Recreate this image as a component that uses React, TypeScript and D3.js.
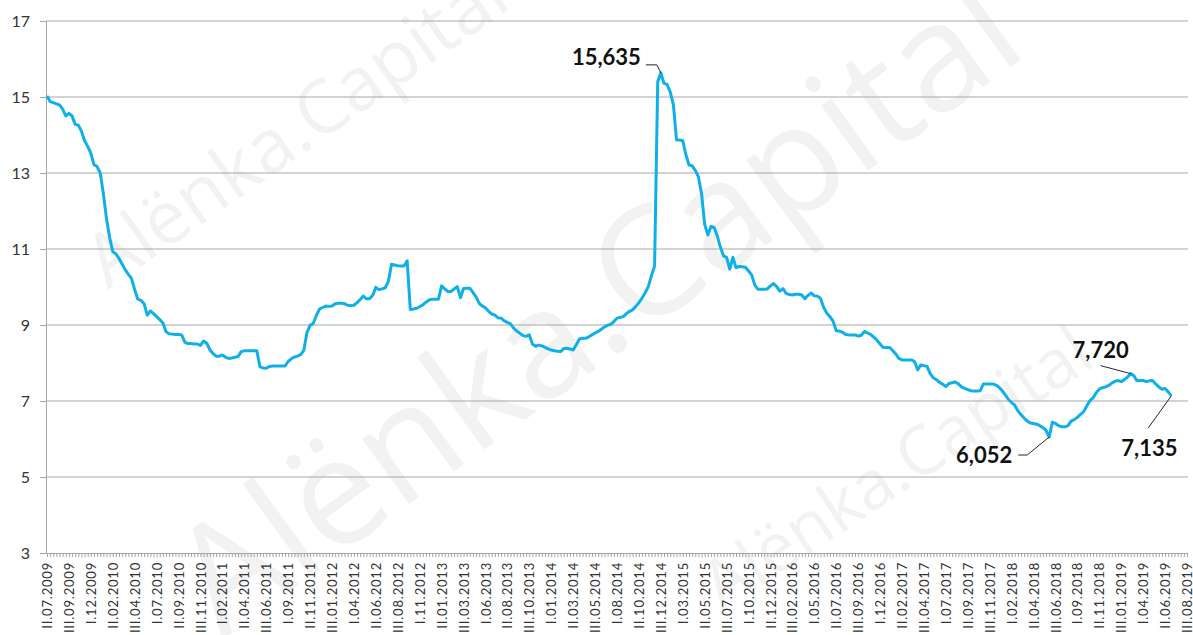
import * as d3 from "d3";
import { useRef, useEffect } from "react";

// ten-day periods (decades) from II.07.2009 to III.08.2019
const decadeNames = ["I", "II", "III"];
const firstPeriod = { year: 2009, month: 7, decade: 2 };
const lastPeriod = { year: 2019, month: 8, decade: 3 };

function buildCategories() {
  const out: string[] = [];
  let { year, month, decade } = firstPeriod;
  while (true) {
    out.push(`${decadeNames[decade - 1]}.${String(month).padStart(2, "0")}.${year}`);
    if (year === lastPeriod.year && month === lastPeriod.month && decade === lastPeriod.decade) break;
    decade++;
    if (decade > 3) {
      decade = 1;
      month++;
      if (month > 12) {
        month = 1;
        year++;
      }
    }
  }
  return out;
}
const categories = buildCategories();

// values, one per decade
const values2009 = [15.03, 14.88, 14.85, 14.82, 14.79, 14.68, 14.5, 14.57, 14.5, 14.28, 14.26, 14.1, 13.85, 13.7, 13.52, 13.22, 13.17];
const values2010 = [13.0, 12.45, 11.8, 11.3, 10.93, 10.87, 10.75, 10.6, 10.45, 10.33, 10.22, 9.93, 9.68, 9.65, 9.56, 9.26, 9.37, 9.3, 9.22, 9.14, 9.06, 8.82, 8.77, 8.76, 8.75, 8.75, 8.74, 8.55, 8.51, 8.51, 8.5, 8.5, 8.46, 8.58, 8.52, 8.35];
const values2011 = [8.25, 8.18, 8.18, 8.21, 8.15, 8.12, 8.13, 8.15, 8.17, 8.3, 8.32, 8.32, 8.32, 8.32, 8.32, 7.9, 7.87, 7.86, 7.91, 7.92, 7.92, 7.92, 7.92, 7.92, 8.04, 8.11, 8.16, 8.18, 8.22, 8.33, 8.8, 8.99, 9.04, 9.25, 9.42, 9.46];
const values2012 = [9.5, 9.49, 9.5, 9.56, 9.57, 9.57, 9.56, 9.52, 9.51, 9.52, 9.59, 9.67, 9.76, 9.69, 9.69, 9.78, 9.99, 9.93, 9.95, 9.98, 10.15, 10.6, 10.58, 10.56, 10.55, 10.55, 10.69, 9.41, 9.42, 9.44, 9.48, 9.53, 9.6, 9.66, 9.68, 9.68];
const values2013 = [9.68, 10.03, 9.95, 9.88, 9.88, 9.95, 10.01, 9.72, 9.96, 9.97, 9.97, 9.86, 9.74, 9.57, 9.5, 9.45, 9.36, 9.29, 9.26, 9.19, 9.18, 9.11, 9.07, 9.03, 8.92, 8.84, 8.78, 8.72, 8.7, 8.74, 8.5, 8.44, 8.47, 8.45, 8.41, 8.37];
const values2014 = [8.34, 8.32, 8.31, 8.3, 8.38, 8.39, 8.37, 8.34, 8.48, 8.63, 8.65, 8.65, 8.69, 8.74, 8.79, 8.83, 8.89, 8.95, 8.99, 9.02, 9.09, 9.18, 9.2, 9.22, 9.3, 9.36, 9.4, 9.49, 9.59, 9.71, 9.85, 10.01, 10.3, 10.55, 15.4, 15.635];
const values2015 = [15.36, 15.33, 15.13, 14.8, 13.87, 13.87, 13.85, 13.48, 13.21, 13.19, 13.07, 12.9, 12.45, 11.65, 11.37, 11.59, 11.57, 11.35, 11.05, 10.82, 10.78, 10.47, 10.78, 10.51, 10.54, 10.53, 10.52, 10.42, 10.32, 10.05, 9.94, 9.94, 9.94, 9.95, 10.03, 10.09];
const values2016 = [10.01, 9.89, 9.96, 9.83, 9.8, 9.79, 9.81, 9.81, 9.79, 9.69, 9.78, 9.84, 9.77, 9.76, 9.7, 9.46, 9.31, 9.22, 9.1, 8.85, 8.84, 8.81, 8.75, 8.74, 8.74, 8.74, 8.71, 8.73, 8.83, 8.79, 8.75, 8.68, 8.6, 8.5, 8.41, 8.41];
const values2017 = [8.41, 8.33, 8.24, 8.12, 8.08, 8.08, 8.08, 8.08, 8.04, 7.82, 7.95, 7.93, 7.91, 7.72, 7.61, 7.56, 7.49, 7.44, 7.38, 7.46, 7.48, 7.5, 7.45, 7.37, 7.33, 7.3, 7.27, 7.26, 7.26, 7.27, 7.45, 7.45, 7.45, 7.45, 7.42, 7.36];
const values2018 = [7.27, 7.16, 7.04, 6.96, 6.89, 6.74, 6.64, 6.55, 6.47, 6.42, 6.41, 6.39, 6.35, 6.3, 6.23, 6.052, 6.44, 6.41, 6.35, 6.32, 6.32, 6.35, 6.47, 6.51, 6.57, 6.65, 6.72, 6.87, 7.01, 7.08, 7.22, 7.31, 7.35, 7.37, 7.41, 7.47];
const values2019 = [7.52, 7.54, 7.51, 7.56, 7.63, 7.72, 7.67, 7.53, 7.54, 7.54, 7.51, 7.53, 7.54, 7.45, 7.37, 7.31, 7.33, 7.24, 7.135];

const values = [
  ...values2009, ...values2010, ...values2011, ...values2012, ...values2013, ...values2014,
  ...values2015, ...values2016, ...values2017, ...values2018, ...values2019,
];

const yTicks = [3, 5, 7, 9, 11, 13, 15, 17];
const labelEvery = 7;

// callouts: point index -> text
const callouts = [
  { index: 196, dx: -20, dy: -8, anchor: "end", leader: [[-4, -8], [-15, -8]] },
  { index: 346, dx: -30, dy: -16, anchor: "middle", leader: [[-30, -8]] },
  { index: 320, dx: -37, dy: 26, anchor: "end", leader: [[-22, 18], [-31, 18]] },
  { index: 359, dx: -22, dy: 60, anchor: "middle", leader: [[-23, 32]] },
];

const fmt = (v: number) => d3.format(".3f")(v).replace(".", ",");

export default function App() {
  const xAxisRef = useRef<SVGGElement>(null);
  const yAxisRef = useRef<SVGGElement>(null);

  const width = 1193;
  const height = 635;
  const left = 47;
  const right = 1187;
  const top = 21;
  const bottom = 553;

  const x = d3.scalePoint<string>().domain(categories).range([left, right]);
  const y = d3.scaleLinear().domain([3, 17]).range([bottom, top]);

  const line = d3
    .line<number>()
    .x((_, i) => x(categories[i])!)
    .y((d) => y(d));

  useEffect(() => {
    const gx = d3.select(xAxisRef.current!);
    gx.call(
      d3
        .axisBottom(x)
        .tickSize(4)
        .tickSizeOuter(0)
        .tickFormat((d, i) => (i % labelEvery === 0 ? (d as string) : ""))
    );
    gx.select(".domain").attr("stroke", "#a6a6a6");
    gx.selectAll(".tick line").attr("stroke", "#a6a6a6");
    gx.selectAll(".tick text")
      .attr("transform", "rotate(-90)")
      .attr("text-anchor", "end")
      .attr("x", -9)
      .attr("y", 0)
      .attr("dy", "0.35em")
      .attr("fill", "#333")
      .style("font-family", "Lato, 'Open Sans', sans-serif")
      .style("font-size", "13px")
      .style("letter-spacing", "0.8px");

    const gy = d3.select(yAxisRef.current!);
    gy.call(d3.axisLeft(y).tickValues(yTicks).tickSize(6).tickPadding(10).tickFormat(d3.format("d")));
    gy.select(".domain").attr("stroke", "#a6a6a6");
    gy.selectAll(".tick line").attr("stroke", "#a6a6a6");
    gy.selectAll(".tick text")
      .attr("fill", "#333")
      .style("font-family", "Lato, 'Open Sans', sans-serif")
      .style("font-size", "16px");
  }, []);

  const wm = { fill: "#f2f2f2", fontFamily: "'Open Sans', sans-serif" };

  return (
    <svg width={width} height={height} style={{ position: "absolute", left: 0, top: 0, background: "#fff" }}>
      {/* watermarks */}
      <g style={wm}>
        <text transform="translate(108,290) rotate(-35)" fontSize={74} textLength={495} lengthAdjust="spacingAndGlyphs">
          Alënka.Capital
        </text>
        <text transform="translate(222,640) rotate(-36)" fontSize={150} textLength={1000} lengthAdjust="spacingAndGlyphs">
          Alënka.Capital
        </text>
        <text transform="translate(722,612) rotate(-33.5)" fontSize={68} textLength={450} lengthAdjust="spacingAndGlyphs">
          Alënka.Capital
        </text>
      </g>

      {/* gridlines */}
      {yTicks.slice(1).map((t) => (
        <line key={t} x1={left - 1} x2={right + 1} y1={y(t)} y2={y(t)} stroke="#a6a6a6" strokeWidth={1} />
      ))}

      <g ref={xAxisRef} transform={`translate(0,${bottom})`} />
      <g ref={yAxisRef} transform={`translate(${left - 1},0)`} />

      <path d={line(values)!} fill="none" stroke="#0fafea" strokeWidth={3} strokeLinejoin="round" />

      {/* callouts */}
      {callouts.map((c) => {
        const px = x(categories[c.index])!;
        const py = y(values[c.index]);
        const pts = [[px, py], ...c.leader.map(([a, b]) => [px + a, py + b])];
        return (
          <g key={c.index}>
            <polyline points={pts.map((p) => p.join(",")).join(" ")} fill="none" stroke="#262626" strokeWidth={1} />
            <text
              x={px + c.dx}
              y={py + c.dy}
              textAnchor={c.anchor as any}
              fontFamily="Lato, 'Open Sans', sans-serif"
              fontWeight="bold"
              fontSize={22}
              fill="#111"
            >
              {fmt(values[c.index])}
            </text>
          </g>
        );
      })}
    </svg>
  );
}
